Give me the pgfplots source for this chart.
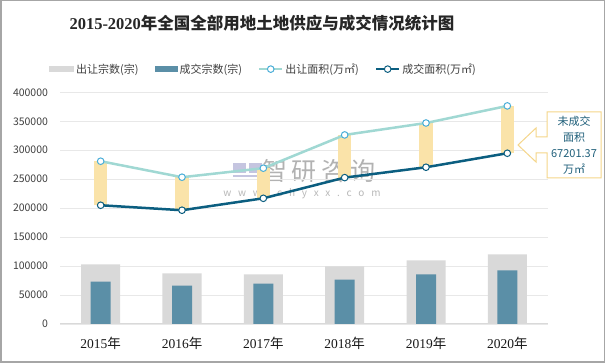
\documentclass[border=0pt]{standalone}
\usepackage{pgfplots}
\pgfplotsset{compat=1.18}
\usepackage{fontspec}
\setmainfont{Noto Sans CJK SC}
\newfontfamily\ser{Liberation Serif}
\definecolor{graybar}{HTML}{D9D9D9}
\definecolor{bluebar}{HTML}{5B8FA7}
\definecolor{lineA}{HTML}{A0D8D3}
\definecolor{markA}{HTML}{4AAED8}
\definecolor{lineB}{HTML}{0B5E80}
\definecolor{yellowbar}{HTML}{FAE3A9}
\definecolor{callout}{HTML}{F5D68A}
\definecolor{calltext}{HTML}{1F5F7A}
\pgfplotsset{
  linelegend/.style={legend image code/.code={\draw[mark repeat=2,mark phase=2,##1] plot coordinates {(0pt,0pt) (11.5pt,0pt) (23pt,0pt)};}},
  graylegend/.style={legend image code/.code={\fill[graybar] (0pt,-3pt) rectangle (25pt,3pt);}},
  bluelegend/.style={legend image code/.code={\fill[bluebar] (0pt,-3pt) rectangle (23pt,3pt);}},
}
\begin{document}
\begin{tikzpicture}[x=1pt,y=1pt]
\useasboundingbox (0,0) rectangle (605,363);
\fill[white] (0,0) rectangle (605,363);
% watermark
\fill[blue!30!gray!35] (233,190) rectangle (246,200);
\fill[blue!30!gray!35] (249,190) rectangle (262,200);
\fill[blue!30!gray!35] (233,186) rectangle (262,188);
\node[text=gray!60, font=\fontsize{25}{27}\selectfont] at (319,192) {智\,研\,咨\,询};
\node[text=gray!55, font=\fontsize{10}{11}\selectfont] at (302,169) {w\ \ \ w\ \ \ w\ \ \ .\ \ \ c\ \ \ h\ \ \ y\ \ \ x\ \ \ x\ \ \ .\ \ \ c\ \ \ o\ \ \ m};
\begin{axis}[
  at={(60pt,39pt)}, anchor=south west, scale only axis,
  width=488pt, height=231.7pt,
  xmin=-0.5, xmax=5.5, ymin=0, ymax=400000,
  xtick={0,1,2,3,4,5},
  xticklabels={{\ser 2015}年,{\ser 2016}年,{\ser 2017}年,{\ser 2018}年,{\ser 2019}年,{\ser 2020}年},
  ytick={0,50000,100000,150000,200000,250000,300000,350000,400000},
  yticklabels={0,50000,100000,150000,200000,250000,300000,350000,400000},
  scaled y ticks=false,
  ymajorgrids, grid style={draw=gray!18, line width=0.6pt},
  axis x line=bottom, axis y line=left, axis line style={-},
  y axis line style={draw=none},
  x axis line style={draw=gray!30, line width=1pt},
  major tick length=0pt, tick style={draw=none},
  yticklabel style={font=\fontsize{10.5}{12}\selectfont, text=black!75, xshift=-8.5pt},
  xticklabel style={font=\fontsize{13.5}{15}\selectfont, text=black!90, yshift=-9.5pt},
  legend columns=4,
  legend style={at={(0.417,1.10)}, anchor=center, draw=none, fill=none,
    font=\fontsize{11}{13}\selectfont, text=black!75,
    /tikz/every even column/.append style={column sep=14pt}},
  clip=false,
]
\addplot[ybar, bar width=39pt, bar shift=0pt, fill=graybar, draw=none, graylegend]
  coordinates {(0,103000) (1,87300) (2,85500) (3,99500) (4,110000) (5,120400)};
\addlegendentry{出让宗数(宗)}
\addplot[ybar, bar width=20pt, bar shift=0pt, fill=bluebar, draw=none, bluelegend]
  coordinates {(0,73300) (1,66300) (2,69800) (3,76800) (4,85500) (5,92500)};
\addlegendentry{成交宗数(宗)}
\addplot[only marks, mark=none, forget plot,
  error bars/.cd, y dir=plus, y explicit, error mark=none,
  error bar style={line width=13.5pt, draw=yellowbar}]
  coordinates {(0,205000) +- (0,76000) (1,196400) +- (0,57000) (2,217000) +- (0,52000)
               (3,252700) +- (0,73700) (4,270600) +- (0,76400) (5,294800) +- (0,81700)};
\addplot[lineA, line width=2.5pt, mark=*, mark size=3.3pt,
  mark options={fill=white, draw=markA, line width=1pt}, linelegend]
  coordinates {(0,281000) (1,253400) (2,269000) (3,326400) (4,347000) (5,376500)};
\addlegendentry{出让面积(万㎡)}
\addplot[lineB, line width=2.5pt, mark=*, mark size=3.3pt,
  mark options={fill=white, draw=lineB, line width=1pt}, linelegend]
  coordinates {(0,205000) (1,196400) (2,217000) (3,252700) (4,270600) (5,294800)};
\addlegendentry{成交面积(万㎡)}
\end{axis}
% title
\node[text=black!85] at (262,340) {\fontsize{16.5}{19}\selectfont\bfseries{\ser 2015-2020}年全国全部用地土地供应与成交情况统计图};
% callout
\draw[callout, fill=white, line width=1pt] (547,251) -- (601,251) -- (601,185) -- (547,185) -- (547,210) -- (536,210) -- (536,201) -- (518,218) -- (536,235) -- (536,226) -- (547,226) -- cycle;
\node[text=calltext, font=\fontsize{11}{16}\selectfont, align=center] at (574,218) {未成交\\面积\\67201.37\\万㎡};
\draw[gray!70, line width=1.5pt] (0.75,0.75) rectangle (604.25,362.25);
\end{tikzpicture}
\end{document}
